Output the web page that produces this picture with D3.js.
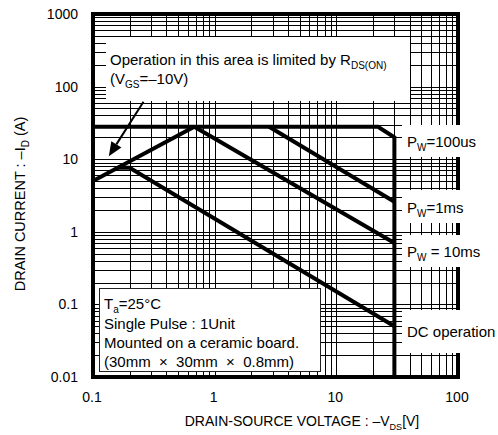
<!DOCTYPE html>
<html>
<head>
<meta charset="utf-8">
<script src="https://cdn.jsdelivr.net/npm/d3@7"></script>
<style>
  body { margin: 0; background: #fff; }
  text { font-family: Arial, "Liberation Sans", Helvetica, sans-serif; fill: #000; }
</style>
</head>
<body>
<svg id="chart" width="498" height="435"></svg>
<script>
// Safe operating area, drain current vs drain-source voltage (log-log)
const xDomain = [0.1, 100];          // -VDS [V]
const yDomain = [0.01, 1000];        // -ID [A]
const xTickValues = [0.1, 1, 10, 100];
const xTickLabels = ["0.1", "1", "10", "100"];
const yTickValues = [0.01, 0.1, 1, 10, 100, 1000];
const yTickLabels = ["0.01", "0.1", "1", "10", "100", "1000"];

// Boundary curves, [VDS, ID]
const rdsLimit    = [[0.1, 5], [0.68, 28]];
const pw100us     = [[0.1, 28], [22, 28], [30, 20], [30, 0.01]];
const pw1ms       = [[2.8, 28], [30, 2.6]];
const pw10ms      = [[0.68, 28], [30, 0.7]];
const dcOperation = [[0.16, 7.6], [0.2, 7.6], [30, 0.05]];

// Arrow pointing at the on-resistance limited region, [VDS, ID]
const arrowFrom = [0.26, 62];
const arrowTo   = [0.135, 11];

const curveLabels = [
  { parts: [["P"], ["W", "sub"], ["=100us"]] },
  { parts: [["P"], ["W", "sub"], ["=1ms"]] },
  { parts: [["P"], ["W", "sub"], [" = 10ms"]] },
  { parts: [["DC operation"]] }
];
const conditionLines = [
  [["T"], ["a", "sub"], ["=25°C"]],
  [["Single Pulse : 1Unit"]],
  [["Mounted on a ceramic board."]],
  [["(30mm  ×  30mm  ×  0.8mm)"]]
];

const svg = d3.select("#chart");
const L = 93, R = 458, T = 14, B = 377;
const x = d3.scaleLog().domain(xDomain).range([L, R]);
const y = d3.scaleLog().domain(yDomain).range([B, T]);

function addParts(sel, parts, size, subSize) {
  parts.forEach(([t, kind], i) => {
    const prev = i > 0 ? parts[i - 1][1] : null;
    const ts = sel.append("tspan").text(t);
    if (kind === "sub") ts.attr("font-size", subSize).attr("dy", 4);
    else if (prev === "sub") ts.attr("font-size", size).attr("dy", -4);
  });
}

// grid
const grid = svg.append("g").attr("stroke", "#000").attr("stroke-width", 1).attr("shape-rendering", "crispEdges");
grid.selectAll("line.v").data(x.ticks()).join("line")
  .attr("x1", d => Math.round(x(d)) + 0.5).attr("x2", d => Math.round(x(d)) + 0.5)
  .attr("y1", T).attr("y2", B);
grid.selectAll("line.h").data(y.ticks()).join("line")
  .attr("x1", L).attr("x2", R)
  .attr("y1", d => Math.round(y(d)) + 0.5).attr("y2", d => Math.round(y(d)) + 0.5);

// note panel (upper) hides grid behind it
svg.append("rect").attr("x", 106).attr("y", 37).attr("width", 304).attr("height", 64).attr("fill", "#fff");

// conditions panel (lower left)
svg.append("rect").attr("x", 99.5).attr("y", 288.5).attr("width", 221).attr("height", 83)
  .attr("fill", "#fff").attr("stroke", "#222").attr("stroke-width", 1);

// curves
const line = d3.line().x(d => x(d[0])).y(d => y(d[1]));
[rdsLimit, pw100us, pw1ms, pw10ms, dcOperation].forEach(c => {
  svg.append("path").attr("d", line(c)).attr("fill", "none")
    .attr("stroke", "#000").attr("stroke-width", 4).attr("stroke-linejoin", "miter");
});

// frame
svg.append("rect").attr("x", L).attr("y", T).attr("width", R - L).attr("height", B - T)
  .attr("fill", "none").attr("stroke", "#000").attr("stroke-width", 4);

// curve label panels over the right frame
const labelBands = [[125, 157], [190, 223], [235, 267], [310, 353]];
const labelCenters = [142, 208, 252, 332];
curveLabels.forEach((c, i) => {
  const [y0, y1] = labelBands[i];
  svg.append("rect").attr("x", 402).attr("y", y0).attr("width", 96).attr("height", y1 - y0).attr("fill", "#fff");
  const t = svg.append("text").attr("x", 407).attr("y", labelCenters[i] + 5).attr("font-size", 15);
  addParts(t, c.parts, 15, 10);
});

// arrow
const ax0 = x(arrowFrom[0]), ay0 = y(arrowFrom[1]);
const ax1 = x(arrowTo[0]), ay1 = y(arrowTo[1]);
const ang = Math.atan2(ay1 - ay0, ax1 - ax0);
const headLen = 14, headW = 6;
const bx = ax1 - headLen * Math.cos(ang), by = ay1 - headLen * Math.sin(ang);
svg.append("line").attr("x1", ax0).attr("y1", ay0).attr("x2", bx).attr("y2", by)
  .attr("stroke", "#000").attr("stroke-width", 2);
svg.append("path").attr("fill", "#000").attr("d",
  `M${ax1},${ay1} L${bx + headW * Math.sin(ang)},${by - headW * Math.cos(ang)} L${bx - headW * Math.sin(ang)},${by + headW * Math.cos(ang)} Z`);

// note text
const n1 = svg.append("text").attr("x", 110).attr("y", 65).attr("font-size", 15);
addParts(n1, [["Operation in this area is limited by R"], ["DS(ON)", "sub"]], 15, 10);
const n2 = svg.append("text").attr("x", 110).attr("y", 84).attr("font-size", 15);
addParts(n2, [["(V"], ["GS", "sub"], ["=–10V)"]], 15, 10);

// conditions text
const condY = [309, 329, 348, 367];
conditionLines.forEach((parts, i) => {
  const t = svg.append("text").attr("x", 104).attr("y", condY[i]).attr("font-size", 15)
    .attr("xml:space", "preserve").style("white-space", "pre");
  addParts(t, parts, 15, 10);
});

// tick labels
svg.selectAll("text.xt").data(xTickValues).join("text")
  .attr("x", d => x(d) - 1).attr("y", 402).attr("text-anchor", "middle").attr("font-size", 14)
  .text((d, i) => xTickLabels[i]);
svg.selectAll("text.yt").data(yTickValues).join("text")
  .attr("x", 78).attr("y", d => y(d) + 5).attr("text-anchor", "end").attr("font-size", 14)
  .text((d, i) => yTickLabels[i]);

// axis titles
const xt = svg.append("text").attr("x", 302).attr("y", 426).attr("text-anchor", "middle").attr("font-size", 14);
addParts(xt, [["DRAIN-SOURCE VOLTAGE : –V"], ["DS", "sub"], ["[V]"]], 14, 9);
const yt = svg.append("text").attr("transform", "translate(25,204) rotate(-90)").attr("text-anchor", "middle").attr("font-size", 14.5);
addParts(yt, [["DRAIN CURRENT : –I"], ["D", "sub"], [" (A)"]], 14.5, 10);
</script>
</body>
</html>
